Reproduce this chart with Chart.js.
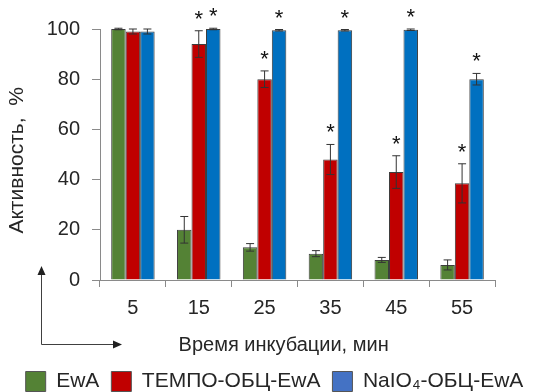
<!DOCTYPE html>
<html lang="ru">
<head>
  <meta charset="UTF-8">
  <title>Активность EwA</title>
  <script src="https://cdn.jsdelivr.net/npm/chart.js"></script>
  <style>
    body { margin:0; background:#fff; }
    #wrap { width:539px; height:392px; position:relative; }
  </style>
</head>
<body>
  <div id="wrap"><canvas id="chart"></canvas></div>
  <script>
    // данные
    const times = ['5', '15', '25', '35', '45', '55'];
    const ewa = [100, 20, 13, 10.5, 8, 6];
    const ewaErr = [0.3, 5.3, 1.5, 1.2, 1, 2];
    const tempo = [99, 94, 80, 48, 43, 38.5];
    const tempoErr = [1, 5.3, 3.3, 6, 6.5, 7.8];
    const naio = [99, 100, 99.5, 99.5, 99.7, 80];
    const naioErr = [1, 0.3, 0.3, 0.3, 0.3, 2.3];
    const tempoStar = [false, true, true, true, true, true];
    const naioStar = [false, true, true, true, true, true];

    const FONT = '"Liberation Sans", Arial, sans-serif';
    const TXT = '#262626';
    const AXIS = '#8a8a8a';

    // усы погрешностей и звёздочки
    const errPlugin = {
      id: 'errBars',
      afterDatasetsDraw(chart) {
        const ctx = chart.ctx;
        const y = chart.scales.y;
        chart.data.datasets.forEach((ds, i) => {
          const meta = chart.getDatasetMeta(i);
          meta.data.forEach((bar, j) => {
            const v = ds.data[j], e = ds.err[j];
            const yt = y.getPixelForValue(v + e);
            const yb = y.getPixelForValue(v - e);
            ctx.save();
            ctx.strokeStyle = '#333';
            ctx.lineWidth = 1;
            ctx.beginPath();
            ctx.moveTo(bar.x, yt); ctx.lineTo(bar.x, yb);
            ctx.moveTo(bar.x - 4, yt); ctx.lineTo(bar.x + 4, yt);
            ctx.moveTo(bar.x - 4, yb); ctx.lineTo(bar.x + 4, yb);
            ctx.stroke();
            if (ds.stars && ds.stars[j]) {
              ctx.fillStyle = '#111';
              ctx.font = '22px ' + FONT;
              ctx.textAlign = 'center';
              ctx.textBaseline = 'alphabetic';
              ctx.fillText('*', bar.x, yt - 5);
            }
            ctx.restore();
          });
        });
      },
      afterDraw(chart) {
        // стрелки в левом нижнем углу
        const ctx = chart.ctx;
        ctx.save();
        ctx.strokeStyle = '#404040';
        ctx.fillStyle = '#202020';
        ctx.lineWidth = 1;
        ctx.beginPath();
        ctx.moveTo(41.5, 274); ctx.lineTo(41.5, 344.5); ctx.lineTo(114, 344.5);
        ctx.stroke();
        ctx.beginPath();
        ctx.moveTo(41.5, 266); ctx.lineTo(37.5, 275); ctx.lineTo(45.5, 275); ctx.closePath();
        ctx.fill();
        ctx.beginPath();
        ctx.moveTo(122, 344.5); ctx.lineTo(113, 340.5); ctx.lineTo(113, 348.5); ctx.closePath();
        ctx.fill();
        ctx.restore();
      }
    };

    new Chart(document.getElementById('chart'), {
      type: 'bar',
      data: {
        labels: times,
        datasets: [
          { label: 'EwA', data: ewa, err: ewaErr, backgroundColor: '#548235', borderColor: '#3d3d3d', borderWidth: 1 },
          { label: 'ТЕМПО-ОБЦ-EwA', data: tempo, err: tempoErr, stars: tempoStar, backgroundColor: '#c00000', borderColor: '#3d3d3d', borderWidth: 1 },
          { label: 'NaIO₄-ОБЦ-EwA', data: naio, err: naioErr, stars: naioStar, backgroundColor: '#0070c0', borderColor: '#3d3d3d', borderWidth: 1 }
        ]
      },
      options: {
        responsive: true,
        maintainAspectRatio: false,
        animation: false,
        categoryPercentage: 0.66,
        barPercentage: 1,
        layout: { padding: { top: 29, right: 0, left: 10, bottom: -10 } },
        plugins: {
          tooltip: { enabled: false },
          legend: {
            position: 'bottom',
            labels: {
              font: { size: 21, family: FONT },
              color: TXT,
              boxWidth: 20,
              boxHeight: 20,
              padding: 12,
              generateLabels(chart) {
                const items = Chart.defaults.plugins.legend.labels.generateLabels(chart);
                items.forEach(it => { it.strokeStyle = '#555'; it.lineWidth = 1; });
                if (items[2]) items[2].fillStyle = '#4472c4';
                return items;
              }
            }
          }
        },
        scales: {
          x: {
            grid: { drawOnChartArea: false, tickLength: 7, color: AXIS, offset: true },
            border: { color: AXIS },
            ticks: { font: { size: 20, family: FONT }, color: TXT, padding: 9 },
            title: { display: true, text: 'Время инкубации, мин     ', font: { size: 20, family: FONT }, color: TXT, padding: { top: 0, bottom: 2 } },
            afterFit(s) { s.height = 79; }
          },
          y: {
            min: 0,
            max: 100,
            grid: { drawOnChartArea: false, tickLength: 8, color: AXIS },
            border: { color: AXIS },
            ticks: { stepSize: 20, font: { size: 20, family: FONT }, color: TXT, padding: 12 },
            title: { display: true, text: 'Активность,  %  ', font: { size: 21, family: FONT }, color: TXT, padding: { top: -5, bottom: 0 } },
            afterFit(s) { s.width = 90; }
          },
          // пустая правая ось — только отступ справа от области графика
          right: {
            type: 'linear',
            position: 'right',
            grid: { display: false },
            border: { display: false },
            ticks: { display: false },
            afterFit(s) { s.width = 44; }
          }
        }
      },
      plugins: [errPlugin]
    });
  </script>
</body>
</html>
